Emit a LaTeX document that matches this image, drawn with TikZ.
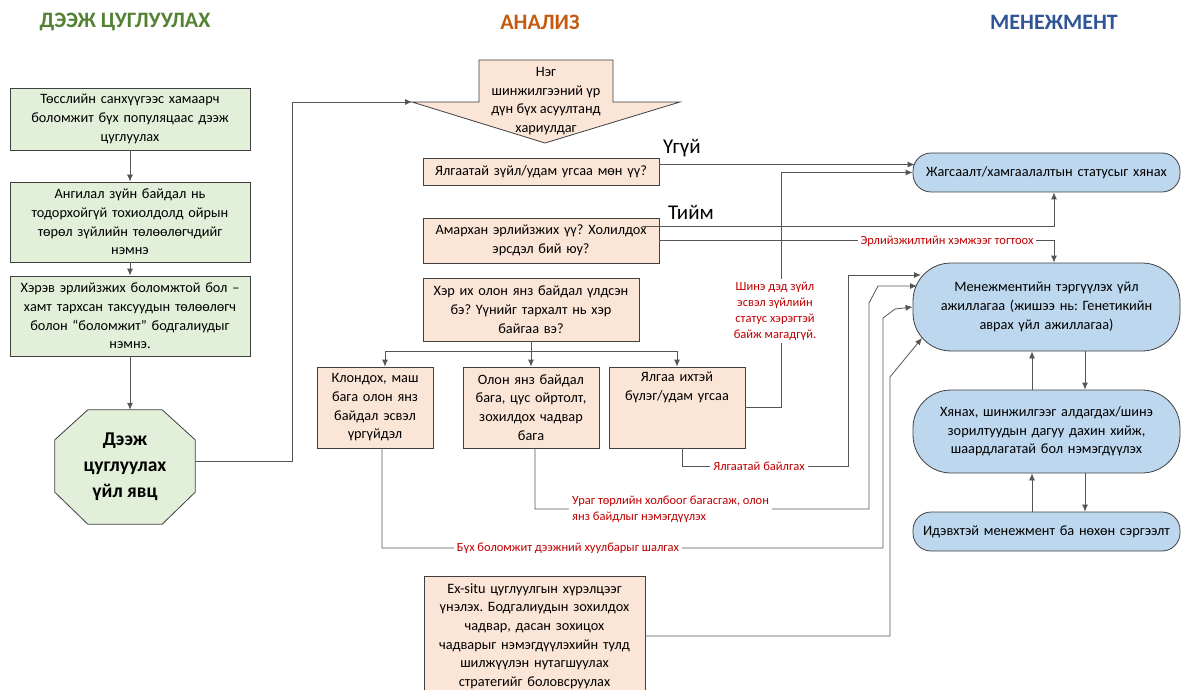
\documentclass[tikz,border=0pt]{standalone}
\usepackage{fontspec}
\setmainfont{Carlito}
\usetikzlibrary{arrows.meta}
\definecolor{gfill}{HTML}{E2EFD9}
\definecolor{pfill}{HTML}{FBE5D6}
\definecolor{mfill}{HTML}{BDD7EE}
\definecolor{bord}{HTML}{404040}
\definecolor{lcol}{HTML}{555555}
\definecolor{hgreen}{HTML}{548235}
\definecolor{horange}{HTML}{C55A11}
\definecolor{hblue}{HTML}{2F5597}
\definecolor{lred}{HTML}{C00000}
\pgfdeclarelayer{bg}
\pgfsetlayers{bg,main}
\newcommand\bodyfnt{\fontsize{14.3}{18.7}\selectfont}
\newcommand\labfnt{\fontsize{12.5}{16}\selectfont}
\frenchspacing
\begin{document}
\begin{tikzpicture}[x=1pt,y=-1pt,
  box/.style={draw=bord, line width=0.8pt, align=center, inner sep=2pt, font=\bodyfnt},
  gbox/.style={box, fill=gfill},
  pbox/.style={box, fill=pfill},
  mbox/.style={box, fill=mfill},
  conn/.style={draw=lcol, line width=0.8pt},
  arr/.style={conn, -{Latex[length=7pt,width=6pt]}},
  lab/.style={text=lred, font=\labfnt, fill=white, inner sep=3pt, align=center},
  head/.style={font=\fontsize{22}{25}\selectfont\bfseries},
  yn/.style={font=\fontsize{21}{24}\selectfont, anchor=west, inner sep=0pt}]
\useasboundingbox (0,0) rectangle (1187,690);

% headers
\node[head, text=hgreen] (h1) at (125,22) {ДЭЭЖ ЦУГЛУУЛАХ};
\node[head, text=horange] (h2) at (540,22) {АНАЛИЗ};
\node[head, text=hblue] (h3) at (1054,22) {МЕНЕЖМЕНТ};

% left column
\node[gbox, text width=236pt, minimum height=62pt] (g1) at (130,119)
  {Төсслийн санхүүгээс хамаарч\\боломжит бүх популяцаас дээж\\цуглуулах};
\node[gbox, text width=236pt, minimum height=80pt] (g2) at (130,222)
  {Ангилал зүйн байдал нь\\тодорхойгүй тохиолдолд ойрын\\төрөл зүйлийн төлөөлөгчдийг\\нэмнэ};
\node[gbox, text width=236pt, minimum height=80pt] (g3) at (130,316)
  {Хэрэв эрлийзжих боломжтой бол –\\хамт тархсан таксуудын төлөөлөгч\\болон “боломжит" бодгалиудыг\\нэмнэ.};
\node[font=\fontsize{19.5}{26}\selectfont\bfseries, align=center, minimum width=140pt, minimum height=114pt, inner sep=0pt] (oct) at (125,467)
  {Дээж\\цуглуулах\\үйл явц};
\begin{pgfonlayer}{bg}
\draw[draw=bord, line width=0.8pt, fill=gfill]
  ([xshift=33pt]oct.north west) -- ([xshift=-33pt]oct.north east) -- ([yshift=-30pt]oct.north east)
  -- ([yshift=32pt]oct.south east) -- ([xshift=-33pt]oct.south east) -- ([xshift=33pt]oct.south west)
  -- ([yshift=32pt]oct.south west) -- ([yshift=-30pt]oct.north west) -- cycle;
\end{pgfonlayer}

% analysis column
\node[font=\bodyfnt, align=center, inner sep=0pt] (ana) at (546,101)
  {Нэг\\шинжилгээний үр\\дүн бүх асуултанд\\хариулдаг};
\coordinate (anatip) at (412,102);
\begin{pgfonlayer}{bg}
\draw[draw=bord, line width=0.8pt, fill=pfill]
  (479,60) -- (613,60) -- (613,102) -- (680,102) -- (545,143) -- (412,102) -- (479,102) -- cycle;
\end{pgfonlayer}

\node[pbox, text width=232pt, minimum height=27pt] (q1) at (541,171.5) {Ялгаатай зүйл/удам угсаа мөн үү?};
\node[pbox, text width=232pt, minimum height=45pt] (q2) at (541,240.5) {Амархан эрлийзжих үү? Холилдох\\эрсдэл бий юу?};
\node[pbox, text width=212pt, minimum height=63pt] (q3) at (531,309.5) {Хэр их олон янз байдал үлдсэн\\бэ? Үүнийг тархалт нь хэр\\байгаа вэ?};
\node[pbox, text width=112pt, minimum height=81pt] (c1) at (375,407.5) {Клондох, маш\\бага олон янз\\байдал эсвэл\\үргүйдэл};
\node[pbox, text width=132pt, minimum height=81pt] (c2) at (531,407.5) {Олон янз байдал\\бага, цус ойртолт,\\зохилдох чадвар\\бага};
\node[pbox, text width=132pt, minimum height=81pt] (c3) at (677,407.5) {Ялгаа ихтэй\\бүлэг/удам угсаа\\\strut\\\strut};
\node[pbox, text width=217pt, minimum height=120pt] (exs) at (534.5,636)
  {Ex-situ цуглуулгын хүрэлцээг\\үнэлэх. Бодгалиудын зохилдох\\чадвар, дасан зохицох\\чадварыг нэмэгдүүлэхийн тулд\\шилжүүлэн нутагшуулах\\стратегийг боловсруулах};

% management column
\node[mbox, rounded corners=18pt, text width=263pt, minimum height=39pt] (m1) at (1046.5,172.5) {Жагсаалт/хамгаалалтын статусыг хянах};
\node[mbox, rounded corners=38pt, text width=263pt, minimum height=88pt] (m2) at (1046.5,307) {Менежментийн тэргүүлэх үйл\\ажиллагаа (жишээ нь: Генетикийн\\аврах үйл ажиллагаа)};
\node[mbox, rounded corners=38pt, text width=263pt, minimum height=83pt] (m3) at (1046.5,431.5) {Хянах, шинжилгээг алдагдах/шинэ\\зорилтуудын дагуу дахин хийж,\\шаардлагатай бол нэмэгдүүлэх};
\node[mbox, rounded corners=18pt, text width=263pt, minimum height=39pt] (m4) at (1046.5,531.5) {Идэвхтэй менежмент ба нөхөн сэргээлт};

\coordinate (m2a) at (921,275);
\coordinate (m2b) at (917,286);
\coordinate (m2d) at (922,338);

% connectors left
\draw[arr] (g1.south) -- (g2.north);
\draw[arr] (g2.south) -- (g3.north);
\draw[arr] (g3.south) -- (g3.south |- oct.north);
\draw[arr] ([yshift=6pt]oct.east) -- ++(97,0) |- (anatip);

% analysis connectors
\draw[arr] (q3.south) -- ++(0,10) -| ([xshift=10pt]c1.north);
\draw[arr] (q3.south) -- (c2.north);
\draw[arr] (q3.south) -- ++(0,10) -| (c3.north);

\draw[arr] ([yshift=7pt]q1.east) -- ([xshift=2pt,yshift=8pt]m1.west);
\draw[arr] (c3.east) -- ++(36,0) |- (m1.west);
\draw[arr] ([xshift=-17pt,yshift=14.5pt]q2.east) -| ([xshift=7.5pt]m1.south);
\draw[arr] (q2.east) -| ([xshift=7.5pt]m2.north);
\draw[arr] ([xshift=5pt]c3.south) |- (848,466) -- (848,275) -- (m2a);
\draw[arr] ([xshift=4pt]c2.south) |- (869,509) -- (869,303) -- (878,286) -- (m2b);
\draw[arr] ([xshift=7pt]c1.south) |- (883,548) -- (883,318) -- (895,309) -- (m2.west);
\draw[arr] (exs.east) -| (890,377) -- (m2d);

% management connectors
\draw[arr] ([xshift=-14.5pt]m3.north) -- ([xshift=-14.5pt]m2.south);
\draw[arr] ([xshift=38.5pt]m2.south) -- ([xshift=38.5pt]m3.north);
\draw[arr] ([xshift=-14.5pt]m4.north) -- ([xshift=-14.5pt]m3.south);
\draw[arr] ([xshift=38.5pt]m3.south) -- ([xshift=38.5pt]m4.north);

% labels
\node[yn] (ugui) at (663,148) {Үгүй};
\node[yn] (tiim) at (668,212) {Тийм};
\node[lab] (l1) at (947,241) {Эрлийзжилтийн хэмжээг тогтоох};
\node[lab] (l2) at (775,311) {Шинэ дэд зүйл\\эсвэл зүйлийн\\статус хэрэгтэй\\байж магадгүй.};
\node[lab] (l3) at (759,466) {Ялгаатай байлгах};
\node[lab, align=left, anchor=west] (l4) at (569,509) {Ураг төрлийн холбоог багасгаж, олон\\янз байдлыг нэмэгдүүлэх};
\node[lab] (l5) at (568,548) {Бүх боломжит дээжний хуулбарыг шалгах};
\end{tikzpicture}
\end{document}
